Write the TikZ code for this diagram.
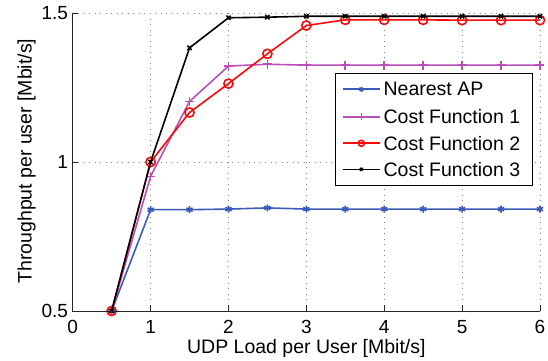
\documentclass[tikz,border=0pt]{standalone}
\usepackage{fontspec}
\setmainfont{Liberation Sans}
\usetikzlibrary{plotmarks}
\definecolor{apblue}{RGB}{60,90,185}
\definecolor{cfpurple}{RGB}{185,80,185}
\definecolor{cfred}{RGB}{250,10,10}
\definecolor{gridgray}{RGB}{130,130,130}
\tikzset{
  gridline/.style={gridgray, line width=0.7pt, dash pattern=on 0.7pt off 4.8pt},
  axisline/.style={black!85, line width=0.8pt},
  ticklab/.style={font=\fontsize{19}{22}\selectfont, inner sep=0pt},
  axlab/.style={font=\fontsize{19.5}{23}\selectfont, inner sep=0pt},
  legtext/.style={font=\fontsize{19.5}{23}\selectfont, inner sep=0pt, anchor=west},
  series/.style={line width=1.6pt},
}
\begin{document}
\begin{tikzpicture}[x=77.88pt, y=298pt]
\useasboundingbox (-0.9335,0.33557) rectangle (6.1030,1.54362);
% grid
\foreach \gx in {1,...,6} \draw[gridline] (\gx,0.5) -- (\gx,1.5);
\foreach \gy in {1,1.5} \draw[gridline] (0,\gy) -- (6,\gy);
% data
\draw[series, apblue, mark=asterisk, mark size=3.5pt] plot coordinates {
 (0.5,0.5) (1,0.84) (1.5,0.84) (2,0.842) (2.5,0.846) (3,0.842) (3.5,0.842) (4,0.842) (4.5,0.842) (5,0.842) (5.5,0.842) (6,0.842)};
\draw[series, cfpurple, mark=+, mark size=4.5pt] plot coordinates {
 (0.5,0.5) (1,0.952) (1.5,1.203) (2,1.322) (2.5,1.328) (3,1.325) (3.5,1.325) (4,1.325) (4.5,1.325) (5,1.325) (5.5,1.325) (6,1.325)};
\draw[series, cfred, mark=o, mark size=4.6pt] plot coordinates {
 (0.5,0.5) (1,1.0) (1.5,1.166) (2,1.263) (2.5,1.363) (3,1.458) (3.5,1.477) (4,1.477) (4.5,1.477) (5,1.476) (5.5,1.476) (6,1.476)};
\draw[series, black, mark=x, mark size=3pt] plot coordinates {
 (0.5,0.5) (1,1.0) (1.5,1.383) (2,1.484) (2.5,1.486) (3,1.489) (3.5,1.489) (4,1.489) (4.5,1.489) (5,1.489) (5.5,1.489) (6,1.489)};
% axes
\coordinate (o) at (0,0.5);
\coordinate (xe) at (6,0.5);
\coordinate (ye) at (0,1.5);
\draw[axisline] (ye) -- (o) -- (xe);
\foreach \tx in {0,...,6} {
  \draw[axisline] (\tx,0.5) -- ++(0,5.5pt);
  \node[ticklab, anchor=north] (xt\tx) at ([yshift=-9pt]\tx,0.5) {\tx};
}
\foreach \ty/\tl in {0.5/0.5,1/1,1.5/1.5} {
  \draw[axisline] (0,\ty) -- ++(5.5pt,0);
  \node[ticklab, anchor=east] (yt\tl) at ([xshift=-4.5pt]0,\ty) {\tl};
}
\node[axlab, anchor=base] (xl) at ([yshift=-43pt]3,0.5) {UDP Load per User [Mbit/s]};
\node[axlab, rotate=90, anchor=center] (yl) at ([xshift=-46pt]0,1.003) {Throughput per user [Mbit/s]};
% legend
\draw[fill=white, line width=0.8pt] (3.368,0.9228) rectangle (5.898,1.2977);
\draw[series, apblue] (3.467,1.244) -- (3.946,1.244);
\draw[series, apblue, mark=asterisk, mark size=2.5pt] plot coordinates {(3.706,1.244)};
\node[legtext] (l1) at (3.99,1.244) {Nearest AP};
\draw[series, cfpurple] (3.467,1.152) -- (3.946,1.152);
\draw[series, cfpurple, mark=+, mark size=3.5pt] plot coordinates {(3.706,1.152)};
\node[legtext] (l2) at (3.99,1.152) {Cost Function 1};
\draw[series, cfred] (3.467,1.0628) -- (3.946,1.0628);
\draw[series, cfred, mark=o, mark size=3pt] plot coordinates {(3.706,1.0628)};
\node[legtext] (l3) at (3.99,1.0628) {Cost Function 2};
\draw[series, black] (3.467,0.9755) -- (3.946,0.9755);
\draw[series, black, mark=x, mark size=2pt] plot coordinates {(3.706,0.9755)};
\node[legtext] (l4) at (3.99,0.9755) {Cost Function 3};
\end{tikzpicture}
\end{document}
